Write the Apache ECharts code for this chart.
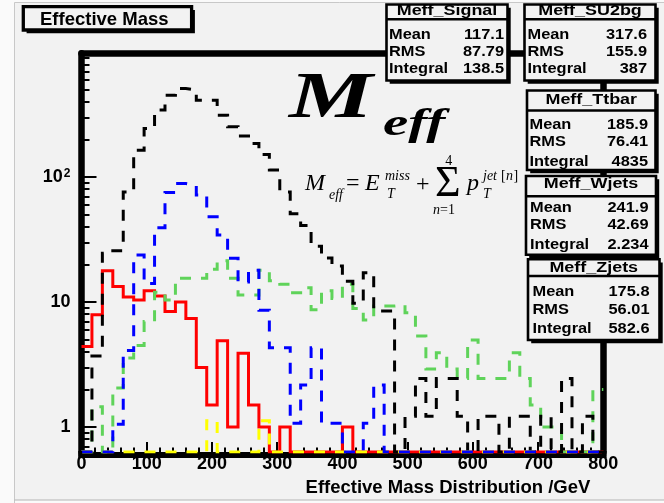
<!DOCTYPE html>
<html><head><meta charset="utf-8">
<script src="https://cdn.jsdelivr.net/npm/echarts@6/dist/echarts.min.js"></script>
<style>html,body{margin:0;padding:0;background:#f2f2f2;} #c{width:664px;height:503px;}</style>
</head><body><div id="c"></div>
<script>
// ---- data ----
const binEdges = [0,16,32,48,64,80,96,112,128,144,160,176,192,208,224,240,256,272,288,304,320,336,352,368,384,400,416,432,448,464,480,496,512,528,544,560,576,592,608,624,640,656,672,688,704,720,736,752,768,784,800];
const signal = [4.4,7.9,17.8,13.3,11.0,10.4,12.3,11.2,8.4,10.0, 7.4,3.0,1.5,4.9,1.0,3.9,1.5,1.0,0,1.0, 0,0,0,0,0,1.0,0,0,0,0, 0,0,0,0,0,0,0,0,0,0, 0,0,0,0,0,0,0,0,0,0];
const su2bg = [0,1.45,0,2.05,3.56,4.5,7.0,12,10.4,15.5, 15.5,15.5,18.3,21.4,15.5,11.4,11.4,18.0,14.8,13.9, 11.9,13.0,8.7,12.3,10.7,13.9,8.9,7.2,9.3,9.3, 9.5,8.2,5.35,2.91,3.93,2.91,2.45,4.97,2.45,2.45, 2.45,3.93,2.45,1.5,1.0,1.0,0,0,0,2.0];
const ttbar = [0,3.7,24.6,25.8,76,164,245,344,453,512, 497,413,413,313,253,213,186,152,114,76, 51,41,28,22.5,19.4,14.7,9.8,17.2,8.5,8.5, 0,1.22,2.45,1.22,2.45,2.45,1.22,0,1.22,1.22, 0,1.22,1.22,0,1.22,0,2.45,0,1.22,0];
const wjets = [0,0,0,0,0,0,0,0,0,0, 0,0,1.12,0,0,0,0,1.12,0,0, 0,0,0,0,0,0,0,0,0,0, 0,0,0,0,0,0,0,0,0,0, 0,0,0,0,0,0,0,0,0,0];
const zjets = [0,0,0,1.05,4.1,23.8,14.1,39.4,75.5,89, 86,71.8,48.2,34.4,22.4,14.5,18,8.6,4.3,4.3, 1.07,2.17,4.3,1.07,1.07,0,0,1.07,2.17,0, 0,0,0,0,0,0,0,0,0,0, 0,0,0,0,0,0,0,0,0,0];

const yMajorTicks = [1,10,100];
const yMinorTicks = [0.7,0.8,0.9,2,3,4,5,6,7,8,9,20,30,40,50,60,70,80,90,200,300,400,500,600,700,800,900];

const statNames = ['Meff_Signal','Meff_SU2bg','Meff_Ttbar','Meff_Wjets','Meff_Zjets'];
const statMean = ['117.1','317.6','185.9','241.9','175.8'];
const statRMS = ['87.79','155.9','76.41','42.69','56.01'];
const statIntegral = ['138.5','387','4835','2.234','582.6'];
const statLabels = ['Mean','RMS','Integral'];

// ---- layout ----
const YMIN = 0.631, YMAX = 980;
const SANS = '"Liberation Sans", Arial, sans-serif';
const SERIF = '"Liberation Serif", "Times New Roman", serif';

function hist(vals) {
  const d = [];
  for (let i = 0; i < vals.length; i++) d.push([binEdges[i], vals[i] > 0 ? vals[i] : YMIN]);
  const last = vals[vals.length - 1];
  d.push([binEdges[vals.length], last > 0 ? last : YMIN]);
  return d;
}
function histSeries(name, vals, color, dashed) {
  return {
    name, type: 'line', step: 'end', data: hist(vals), showSymbol: false, symbol: 'none',
    xAxisIndex: 0, yAxisIndex: 0, silent: true,
    lineStyle: { color, width: 3, type: dashed ? [11, 10] : 'solid', cap: 'butt', join: 'miter' }
  };
}

const boxes = [
  {x0:386.5,x1:507.5,y0:4.5,y1:80.5,sep:19.3,ty:11.2,rows:[35.3,51.7,69],lx:389,vx:504},
  {x0:524.5,x1:655.5,y0:4.5,y1:80.5,sep:19.3,ty:11.2,rows:[35.3,51.7,69],lx:527.5,vx:647},
  {x0:527,x1:655.5,y0:90.5,y1:170,sep:110.5,ty:100,rows:[125,141.7,161.7],lx:529.5,vx:648},
  {x0:526,x1:656,y0:176,y1:254.7,sep:196.3,ty:184.5,rows:[207.7,225.3,245],lx:530,vx:648.5},
  {x0:528,x1:659.5,y0:259.3,y1:340,sep:276,ty:268.3,rows:[291.7,310,328.7],lx:532.5,vx:649.5}
];

const g = [];
function txt(text, x, y, font, align, opts) {
  const o = Object.assign({ type: 'text', x, y, z: 60, silent: true,
    style: { text, font, fill: '#000', textAlign: align || 'left', textVerticalAlign: 'middle' } }, opts || {});
  g.push(o);
}
// canvas margins (lighter) and pad border
g.push({type:'rect', z: 100, silent:true, shape:{x:0,y:0,width:14,height:503}, style:{fill:'#fafafa'}});
g.push({type:'rect', z: 100, silent:true, shape:{x:0,y:0,width:664,height:2}, style:{fill:'#fafafa'}});
g.push({type:'rect', z: 100, silent:true, shape:{x:0,y:500,width:664,height:3}, style:{fill:'#fafafa'}});
g.push({type:'polyline', z: 100, silent:true, shape:{points:[[14.5,503],[14.5,2.5],[664,2.5]]}, style:{stroke:'#c8c8c8', lineWidth:1, fill:null}});
g.push({type:'line', z: 100, silent:true, shape:{x1:14.5,y1:500,x2:664,y2:500}, style:{stroke:'#b4b4b4', lineWidth:1}});
// frame corners
g.push({type:'rect', z: 5, silent:true, shape:{x:78.2,y:451,width:4,height:7}, style:{fill:'#000'}});
g.push({type:'rect', z: 5, silent:true, shape:{x:602,y:451,width:4.6,height:7}, style:{fill:'#000'}});

// title box
g.push({type:'rect', z: 55, silent:true, shape:{x:26.6,y:9.9,width:168.3,height:23.4}, style:{fill:'#000'}});
g.push({type:'rect', z: 56, silent:true, shape:{x:23.3,y:6.6,width:168.3,height:23.4}, style:{fill:'#f2f2f2', stroke:'#000', lineWidth:3.3}});
txt('Effective Mass', 40, 20, 'bold 18.5px ' + SANS, 'left');

// stat boxes
boxes.forEach((b, i) => {
  const w = b.x1 - b.x0, h = b.y1 - b.y0;
  g.push({type:'rect', z: 50, silent:true, shape:{x:b.x0+3.2,y:b.y0+3.2,width:w,height:h}, style:{fill:'#000'}});
  g.push({type:'rect', z: 51, silent:true, shape:{x:b.x0,y:b.y0,width:w,height:h}, style:{fill:'#f2f2f2', stroke:'#000', lineWidth:2.6}});
  g.push({type:'line', z: 52, silent:true, shape:{x1:b.x0,y1:b.sep,x2:b.x1,y2:b.sep}, style:{stroke:'#000', lineWidth:2.6}});
  txt(statNames[i], (b.x0 + b.x1) / 2, b.ty, 'bold 14px ' + SANS, 'center', {scaleX: 1.28});
  const vals = [statMean[i], statRMS[i], statIntegral[i]];
  for (let r = 0; r < 3; r++) {
    txt(statLabels[r], b.lx, b.rows[r], 'bold 14px ' + SANS, 'left', {scaleX: 1.17});
    txt(vals[r], b.vx, b.rows[r], 'bold 14px ' + SANS, 'right', {scaleX: 1.17});
  }
});

// big M_eff
txt('M', 289, 100, 'bold italic 65px ' + SERIF, 'left', {scaleX: 1.45});
txt('eff', 383, 125.2, 'bold italic 38px ' + SERIF, 'left', {scaleX: 1.5});
// formula
txt('M', 305, 184, 'italic 24px ' + SERIF, 'left');
txt('eff', 329, 195.3, 'italic 14px ' + SERIF, 'left');
txt('=', 346, 184, '24px ' + SERIF, 'left');
txt('E', 365, 184, 'italic 24px ' + SERIF, 'left');
txt('miss', 385, 176.5, 'italic 14px ' + SERIF, 'left');
txt('T', 387, 194.6, 'italic 14px ' + SERIF, 'left');
txt('+', 416, 184.5, '24px ' + SERIF, 'left');
txt('\u03A3', 435, 184.4, '44px ' + SERIF, 'left');
txt('4', 448.8, 161.3, '14px ' + SERIF, 'center');
txt('n', 440, 210.3, 'italic 14px ' + SERIF, 'right');
txt('=1', 440, 210.3, '14px ' + SERIF, 'left');
txt('p', 467, 184, 'italic 24px ' + SERIF, 'left');
txt('jet', 483, 176.3, 'italic 14px ' + SERIF, 'left');
txt('[', 501, 176.3, '14px ' + SERIF, 'left');
txt('n', 506, 176.3, 'italic 14px ' + SERIF, 'left');
txt(']', 513.5, 176.3, '14px ' + SERIF, 'left');
txt('T', 483, 194.6, 'italic 14px ' + SERIF, 'left');

const labelFont = { fontFamily: SANS, fontWeight: 'bold', fontSize: 18, color: '#000' };

const option = {
  animation: false,
  backgroundColor: '#f2f2f2',
  grid: { left: 81.5, right: 60.7, top: 53.3, bottom: 51, containLabel: false },
  xAxis: [
    { type: 'value', min: 0, max: 800, interval: 100, position: 'bottom',
      axisLine: { show: false, onZero: false },
      axisTick: { show: true, inside: true, length: 10, lineStyle: { color: '#000', width: 2 } },
      minorTick: { show: true, splitNumber: 5, length: 4.5, lineStyle: { color: '#000', width: 2 } },
      axisLabel: Object.assign({ margin: 3 }, labelFont),
      splitLine: { show: false },
      name: 'Effective Mass Distribution /GeV', nameLocation: 'end', nameGap: -13,
      nameTextStyle: { fontFamily: SANS, fontWeight: 'bold', fontSize: 18.5, color: '#000', align: 'right', verticalAlign: 'top', padding: [26, 0, 0, 0] }
    },
    { type: 'value', min: 0, max: 800, position: 'top',
      axisLine: { show: true, onZero: false, lineStyle: { color: '#000', width: 6.5 } },
      axisTick: { show: false }, axisLabel: { show: false }, splitLine: { show: false } },
    { type: 'value', min: 0, max: 800, position: 'bottom', offset: 3,
      axisLine: { show: true, onZero: false, lineStyle: { color: '#000', width: 6 } },
      axisTick: { show: false }, axisLabel: { show: false }, splitLine: { show: false } }
  ],
  yAxis: [
    { type: 'log', logBase: 10, min: YMIN, max: YMAX, position: 'left',
      axisLine: { show: true, onZero: false, lineStyle: { color: '#000', width: 6.5 } },
      axisTick: { show: true, inside: true, length: 15, customValues: yMajorTicks, lineStyle: { color: '#000', width: 2 } },
      axisLabel: Object.assign({ margin: 11, customValues: yMajorTicks,
        formatter: v => (Math.abs(v - 100) < 1e-6 ? '10{s|2}' : String(Math.round(v))),
        rich: { s: { fontFamily: SANS, fontWeight: 'bold', fontSize: 12, color: '#000', verticalAlign: 'top', padding: [0, 0, 7, 1] } } }, labelFont),
      splitLine: { show: false }, minorTick: { show: false } },
    { type: 'log', logBase: 10, min: YMIN, max: YMAX, position: 'left',
      axisLine: { show: false },
      axisTick: { show: true, inside: true, length: 8, customValues: yMinorTicks, lineStyle: { color: '#000', width: 2 } },
      axisLabel: { show: false }, splitLine: { show: false } },
    { type: 'value', min: 0, max: 1, position: 'right',
      axisLine: { show: true, onZero: false, lineStyle: { color: '#000', width: 6.5 } },
      axisTick: { show: false }, axisLabel: { show: false }, splitLine: { show: false } }
  ],
  graphic: { elements: g },
  series: [
    histSeries('Meff_Signal', signal, '#ff0000', false),
    histSeries('Meff_SU2bg', su2bg, '#5fd35a', true),
    histSeries('Meff_Ttbar', ttbar, '#000000', true),
    histSeries('Meff_Wjets', wjets, '#ffff00', true),
    histSeries('Meff_Zjets', zjets, '#0000ff', true)
  ]
};
const chart = echarts.init(document.getElementById('c'), null, { renderer: 'canvas' });
chart.setOption(option);
</script>
</body></html>
